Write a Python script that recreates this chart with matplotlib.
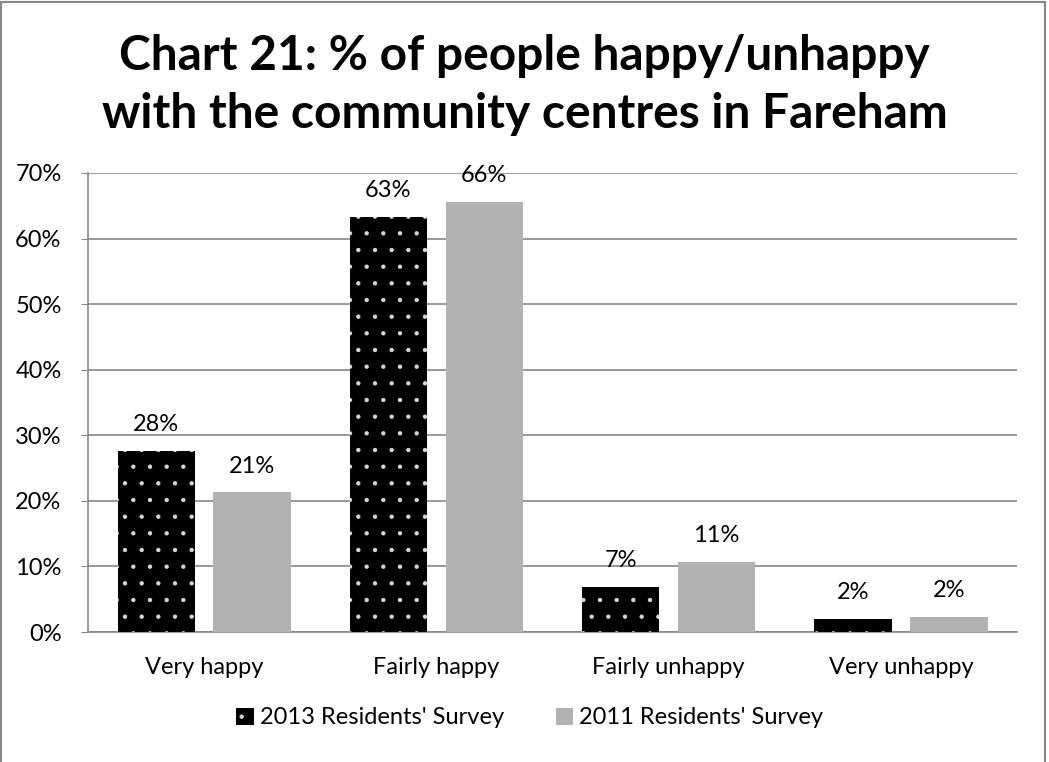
import matplotlib
matplotlib.use("Agg")
import matplotlib.pyplot as plt
from matplotlib.patches import Rectangle
import numpy as np

categories = ["Very happy", "Fairly happy", "Fairly unhappy", "Very unhappy"]
series_names = ["2013 Residents' Survey", "2011 Residents' Survey"]
values_2013 = [27.6, 63.3, 6.9, 2.0]
values_2011 = [21.3, 65.6, 10.7, 2.3]
labels_2013 = ["28%", "63%", "7%", "2%"]
labels_2011 = ["21%", "66%", "11%", "2%"]
yticks = [0, 10, 20, 30, 40, 50, 60, 70]

plt.rcParams['font.family'] = ['Lato', 'DejaVu Sans']
plt.rcParams['hatch.linewidth'] = 0.7

FS = 17

fig = plt.figure(figsize=(10.49, 7.62), dpi=100)
ax = fig.add_axes([0.0839, 0.1706, 0.9695 - 0.0839, 0.773 - 0.1706])

x = np.arange(len(categories))
w = 0.333
gap = 0.08
off = (w + gap) / 2
b1 = ax.bar(x - off, values_2013, w, color='black', hatch='.', edgecolor='#d8d8d8', linewidth=0,
            label=series_names[0], zorder=3)
b2 = ax.bar(x + off, values_2011, w, color='#b2b2b2', linewidth=0, label=series_names[1], zorder=3)

for rect, lab in zip(b1, labels_2013):
    ax.text(rect.get_x() + rect.get_width() / 2, rect.get_height() + 4.0, lab,
            ha='center', va='center', fontsize=FS)
for rect, lab in zip(b2, labels_2011):
    ax.text(rect.get_x() + rect.get_width() / 2, rect.get_height() + 4.0, lab,
            ha='center', va='center', fontsize=FS)

ax.set_xlim(-0.5, len(categories) - 0.5)
ax.set_ylim(0, 70)
ax.set_yticks(yticks)
ax.set_yticklabels([f"{t}%" for t in yticks], fontsize=FS)
ax.set_xticks(x)
ax.set_xticklabels(categories, fontsize=FS)
ax.tick_params(axis='x', length=0, pad=18)
ax.tick_params(axis='y', length=5, color='#868686', pad=14)
ax.yaxis.grid(True, color='#868686', linewidth=1.2, zorder=0)
ax.set_axisbelow(True)
for s in ['top', 'right']:
    ax.spines[s].set_visible(False)
for s in ['left', 'bottom']:
    ax.spines[s].set_color('#868686')
    ax.spines[s].set_linewidth(1.2)

fig.text(0.5, 1 - 70 / 762, "Chart 21: % of people happy/unhappy",
         ha='center', va='baseline', fontsize=34.5, fontweight='bold')
fig.text(0.5, 1 - 128 / 762, "with the community centres in Fareham",
         ha='center', va='baseline', fontsize=34.5, fontweight='bold')

leg = fig.legend(handles=[b1, b2], loc='center', bbox_to_anchor=(0.505, 1 - 718 / 762), ncol=2,
                 frameon=False, fontsize=FS, handlelength=0.75, handleheight=0.75,
                 handletextpad=0.25, columnspacing=2.2)

# outer chart border (no bottom edge visible in the reference)
for xs, ys in [((0.001, 0.001), (0.0, 0.997)), ((0.001, 0.996), (0.997, 0.997)),
               ((0.996, 0.996), (0.0, 0.997))]:
    fig.add_artist(plt.Line2D(xs, ys, transform=fig.transFigure, color='#868686', linewidth=1.5))

fig.savefig("out.png", dpi=100)
